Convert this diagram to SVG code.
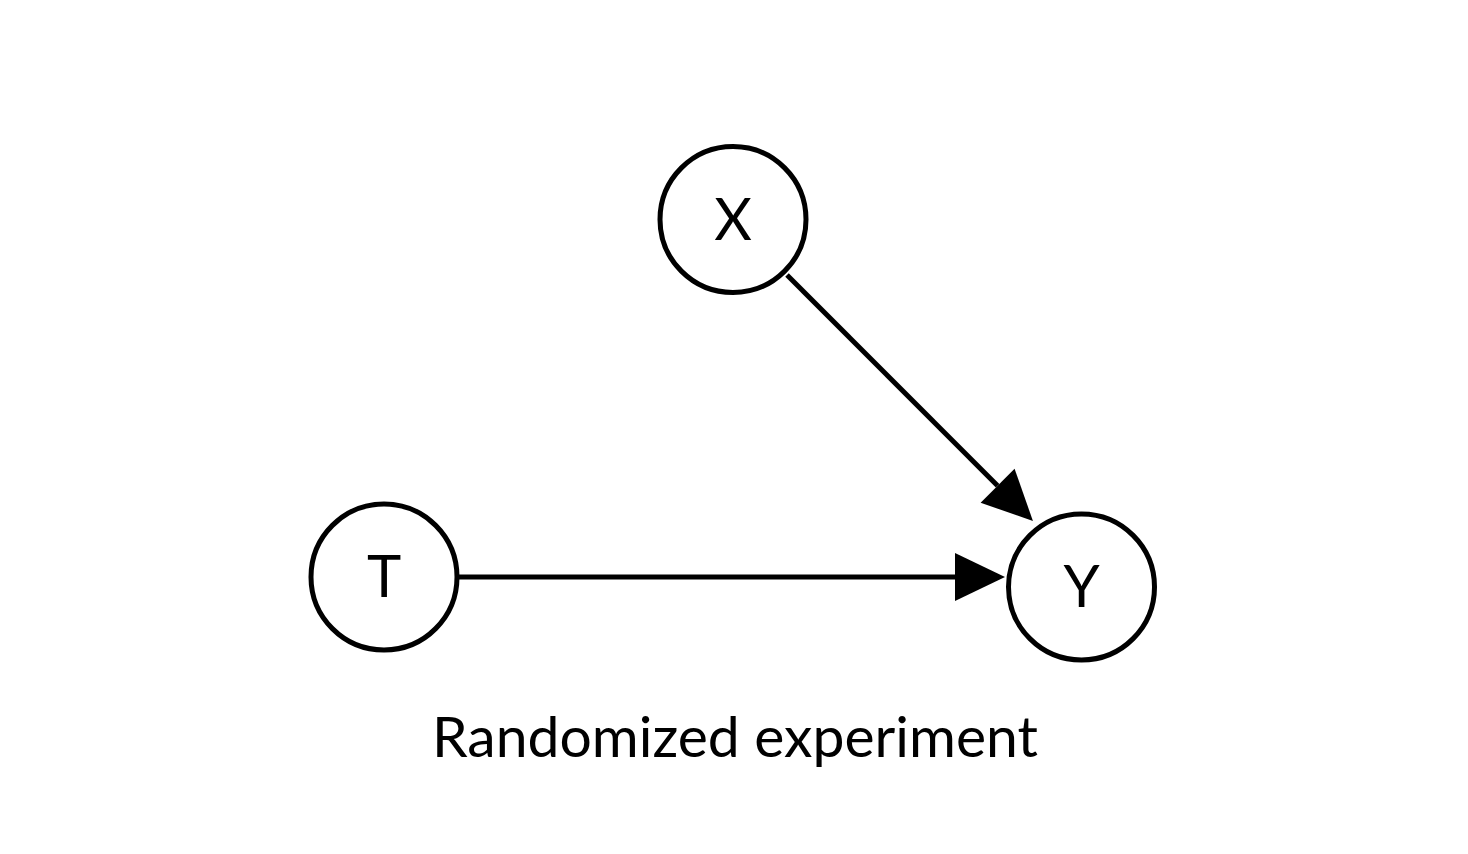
<svg xmlns="http://www.w3.org/2000/svg" width="1468" height="854" viewBox="0 0 1468 854">
<style>
.node circle{fill:#fff;stroke:#000;stroke-width:5}
.node text{font-family:"Lato","Noto Sans",sans-serif;font-size:58px;fill:#000;text-anchor:middle}
.edge{stroke:#000;stroke-width:5;fill:none}
.caption{font-family:"Lato","Noto Sans",sans-serif;font-size:57px;fill:#000;text-anchor:middle}
</style>
<defs>
<marker id="arrow" markerUnits="userSpaceOnUse" markerWidth="52" markerHeight="50" refX="0" refY="24" orient="auto" viewBox="0 0 52 48" overflow="visible">
<path d="M0,0 L50,24 L0,48 z" fill="#000"/>
</marker>
</defs>
<rect width="1468" height="854" fill="#fff"/>
<g id="connectors">
<line class="edge" x1="459" y1="577" x2="955" y2="577" marker-end="url(#arrow)"/>
<line class="edge" x1="787" y1="275" x2="997.6" y2="485.7" marker-end="url(#arrow)"/>
</g>
<g id="node-X" class="node">
<circle cx="733" cy="219.5" r="73"/>
<text x="733" y="240">X</text>
</g>
<g id="node-T" class="node">
<circle cx="384" cy="577" r="73"/>
<text x="384" y="597">T</text>
</g>
<g id="node-Y" class="node">
<circle cx="1081.5" cy="587" r="73"/>
<text x="1081.5" y="607">Y</text>
</g>
<text class="caption" x="735" y="757" textLength="606" lengthAdjust="spacingAndGlyphs">Randomized experiment</text>
</svg>
